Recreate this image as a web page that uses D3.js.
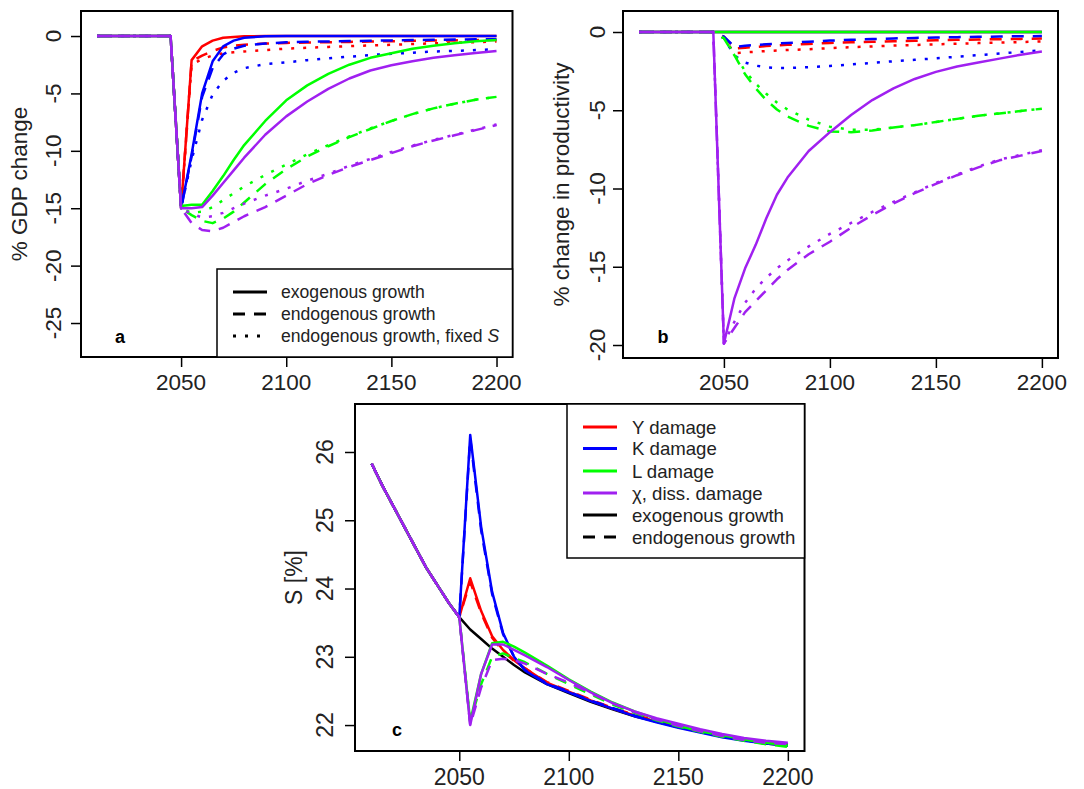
<!DOCTYPE html>
<html>
<head>
<meta charset="utf-8">
<script src="https://cdn.jsdelivr.net/npm/d3@7"></script>
<style>
  body { margin: 0; background: #fff; }
  svg { display: block; font-family: "Liberation Sans", Arial, sans-serif; }
</style>
</head>
<body>
<svg id="chart" width="1084" height="789"></svg>
<script>
// Data (5-10 year steps)
const yearsPre  = [2010, 2015, 2020, 2025, 2030, 2035, 2040, 2045];
const yearsPost = [2050, 2055, 2060, 2065, 2070, 2075, 2080, 2090, 2100, 2110, 2120, 2130, 2140, 2150, 2160, 2170, 2180, 2190, 2200];

const zeroPre    = [0, 0, 0, 0, 0, 0, 0, 0];
const savingsPre = [25.83, 25.5, 25.2, 24.9, 24.6, 24.3, 24.05, 23.8];

const xTicks  = [2050, 2100, 2150, 2200];
const aTicks  = [0, -5, -10, -15, -20, -25];
const bTicks  = [0, -5, -10, -15, -20];
const cTicks  = [22, 23, 24, 25, 26];

// panel a: % GDP change
const aY_exo  = [-15, -2.1, -0.9, -0.4, -0.15, -0.08, -0.03, 0, 0, 0, 0, 0, 0, 0, 0, 0, 0, 0, 0];
const aY_endo = [-15, -2.2, -1.7, -1.3, -1.0, -0.85, -0.75, -0.65, -0.6, -0.57, -0.54, -0.51, -0.48, -0.45, -0.42, -0.4, -0.38, -0.36, -0.34];
const aY_fix  = [-15, -2.5, -2.0, -1.7, -1.5, -1.42, -1.35, -1.22, -1.1, -1.02, -0.95, -0.88, -0.82, -0.76, -0.7, -0.64, -0.58, -0.53, -0.48];
const aK_exo  = [-15, -10.3, -5.0, -2.2, -0.9, -0.4, -0.15, -0.02, 0, 0, 0, 0, 0, 0, 0, 0, 0, 0, 0];
const aK_endo = [-15, -10.5, -5.3, -2.8, -1.6, -1.1, -0.85, -0.65, -0.55, -0.5, -0.47, -0.44, -0.41, -0.38, -0.35, -0.33, -0.31, -0.29, -0.27];
const aK_fix  = [-15, -10.8, -7.3, -5.1, -3.9, -3.2, -2.8, -2.45, -2.3, -2.1, -1.95, -1.8, -1.65, -1.55, -1.45, -1.35, -1.3, -1.22, -1.15];
const aL_exo  = [-14.8, -14.7, -14.7, -13.5, -12.2, -10.8, -9.5, -7.4, -5.6, -4.3, -3.3, -2.5, -1.9, -1.5, -1.1, -0.85, -0.62, -0.45, -0.35];
const aL_endo = [-15, -15.6, -16.1, -16.3, -15.9, -15.3, -14.5, -12.9, -11.6, -10.5, -9.6, -8.8, -8.1, -7.4, -6.8, -6.3, -5.9, -5.55, -5.3];
const aL_fix  = [-15, -15.4, -15.3, -14.9, -14.3, -13.7, -13.1, -12.1, -11.2, -10.3, -9.5, -8.75, -8.05, -7.4, -6.8, -6.3, -5.9, -5.55, -5.3];
const aX_exo  = [-15, -15, -14.9, -13.9, -12.8, -11.7, -10.6, -8.6, -7.0, -5.7, -4.6, -3.7, -3.0, -2.55, -2.2, -1.9, -1.68, -1.48, -1.3];
const aX_endo = [-15, -16.3, -16.9, -17.0, -16.7, -16.2, -15.7, -14.9, -13.9, -12.9, -12.1, -11.4, -10.8, -10.2, -9.6, -9.1, -8.65, -8.2, -7.75];
const aX_fix  = [-15, -15.5, -15.8, -15.7, -15.4, -15.0, -14.6, -13.9, -13.3, -12.6, -12.0, -11.3, -10.7, -10.1, -9.55, -9.05, -8.6, -8.15, -7.7];

// panel b: % change in productivity
const bY_exo  = [0, 0, 0, 0, 0, 0, 0, 0, 0, 0, 0, 0, 0, 0, 0, 0, 0, 0, 0];
const bY_endo = [-0.3, -1.05, -1.0, -0.95, -0.9, -0.86, -0.82, -0.76, -0.7, -0.66, -0.62, -0.59, -0.56, -0.53, -0.5, -0.48, -0.46, -0.44, -0.42];
const bY_fix  = [-0.4, -1.35, -1.3, -1.26, -1.22, -1.18, -1.15, -1.1, -1.03, -0.97, -0.92, -0.87, -0.83, -0.79, -0.75, -0.71, -0.68, -0.64, -0.6];
const bK_exo  = [0, 0, 0, 0, 0, 0, 0, 0, 0, 0, 0, 0, 0, 0, 0, 0, 0, 0, 0];
const bK_endo = [-0.3, -0.95, -0.88, -0.83, -0.78, -0.74, -0.7, -0.62, -0.55, -0.5, -0.45, -0.41, -0.38, -0.35, -0.33, -0.31, -0.29, -0.27, -0.26];
const bK_fix  = [-0.4, -1.5, -1.95, -2.15, -2.25, -2.3, -2.3, -2.25, -2.17, -2.07, -1.97, -1.87, -1.78, -1.68, -1.58, -1.48, -1.38, -1.27, -1.17];
const bL_exo  = [0, 0, 0, 0, 0, 0, 0, 0, 0, 0, 0, 0, 0, 0, 0, 0, 0, 0, 0];
const bL_endo = [-0.4, -1.5, -2.7, -3.6, -4.35, -4.95, -5.4, -6.0, -6.35, -6.4, -6.3, -6.1, -5.95, -5.75, -5.55, -5.35, -5.2, -5.05, -4.9];
const bL_fix  = [-0.4, -1.4, -2.5, -3.3, -3.95, -4.5, -4.95, -5.6, -6.05, -6.25, -6.25, -6.1, -5.95, -5.75, -5.55, -5.35, -5.2, -5.05, -4.9];
const bX_exo  = [-19.9, -17.0, -15.1, -13.6, -11.9, -10.4, -9.3, -7.6, -6.4, -5.3, -4.35, -3.6, -3.0, -2.55, -2.2, -1.95, -1.7, -1.45, -1.25];
const bX_endo = [-19.9, -18.9, -17.9, -17.2, -16.5, -15.8, -15.2, -14.2, -13.4, -12.5, -11.7, -10.95, -10.3, -9.7, -9.15, -8.65, -8.2, -7.9, -7.6];
const bX_fix  = [-19.9, -18.5, -17.3, -16.4, -15.7, -15.1, -14.6, -13.7, -12.9, -12.2, -11.5, -10.85, -10.25, -9.65, -9.1, -8.6, -8.15, -7.85, -7.55];

// panel c: savings rate S [%]
const cBase   = [23.58, 23.4, 23.26, 23.12, 23.0, 22.88, 22.77, 22.6, 22.47, 22.34, 22.23, 22.13, 22.05, 21.97, 21.9, 21.84, 21.78, 21.73, 21.7];
const cY_exo  = [23.58, 24.15, 23.67, 23.3, 23.1, 22.95, 22.83, 22.62, 22.49, 22.36, 22.24, 22.14, 22.05, 21.97, 21.9, 21.84, 21.78, 21.74, 21.71];
const cY_endo = [23.58, 24.1, 23.64, 23.28, 23.08, 22.94, 22.83, 22.63, 22.5, 22.37, 22.25, 22.15, 22.06, 21.98, 21.91, 21.85, 21.79, 21.75, 21.72];
const cK_exo  = [23.58, 26.25, 24.9, 23.95, 23.35, 23.0, 22.8, 22.6, 22.48, 22.35, 22.24, 22.13, 22.04, 21.96, 21.89, 21.82, 21.77, 21.73, 21.7];
const cK_endo = [23.58, 26.2, 24.85, 23.92, 23.33, 23.0, 22.81, 22.61, 22.49, 22.36, 22.25, 22.14, 22.05, 21.97, 21.9, 21.83, 21.78, 21.74, 21.71];
const cL_exo  = [23.58, 22.05, 22.75, 23.2, 23.22, 23.15, 23.06, 22.87, 22.67, 22.49, 22.33, 22.2, 22.09, 21.99, 21.91, 21.85, 21.79, 21.74, 21.7];
const cL_endo = [23.58, 22.05, 22.6, 23.0, 23.05, 22.98, 22.92, 22.75, 22.6, 22.45, 22.3, 22.18, 22.07, 21.98, 21.9, 21.83, 21.77, 21.72, 21.68];
const cX_exo  = [23.58, 22.0, 22.75, 23.18, 23.18, 23.1, 23.02, 22.85, 22.66, 22.48, 22.32, 22.2, 22.1, 22.02, 21.94, 21.87, 21.81, 21.77, 21.74];
const cX_endo = [23.58, 22.0, 22.55, 22.95, 22.97, 22.95, 22.9, 22.75, 22.62, 22.47, 22.32, 22.19, 22.08, 21.99, 21.91, 21.84, 21.78, 21.74, 21.72];

const legendA = ["exogenous growth", "endogenous growth", "endogenous growth, fixed "];
const legendC = ["Y damage", "K damage", "L damage", "χ, diss. damage", "exogenous growth", "endogenous growth"];

// Styles
const COL  = { Y: "#ff0000", K: "#0000ff", L: "#00ff00", X: "#a020f0", base: "#000000" };
const DASH = { exo: null, endo: "12 9", fix: "3 9" };

const svg = d3.select("#chart");

function drawPanel(p) {
  const x = d3.scaleLinear().domain([2002.4, 2207.6]).range([p.left, p.right]);
  const y = d3.scaleLinear().domain(p.yDomain).range([p.bottom, p.top]);
  const g = svg.append("g");
  const line = d3.line().x(d => x(d[0])).y(d => y(d[1]));

  const clip = "clip-" + p.tag;
  svg.append("clipPath").attr("id", clip).append("rect")
    .attr("x", p.left).attr("y", p.top)
    .attr("width", p.right - p.left).attr("height", p.bottom - p.top);

  const lines = g.append("g").attr("clip-path", `url(#${clip})`);
  p.series.forEach(s => {
    const pts = yearsPre.map((yr, i) => [yr, s.pre[i]])
      .concat(yearsPost.map((yr, i) => [yr, s.post[i]]));
    lines.append("path")
      .attr("d", line(pts))
      .attr("fill", "none")
      .attr("stroke", s.color)
      .attr("stroke-width", 2.5)
      .attr("stroke-linejoin", "round")
      .attr("stroke-dasharray", DASH[s.lty]);
  });

  // axes (ticks only; labels drawn R-style)
  g.append("g").attr("transform", `translate(0,${p.bottom})`)
    .call(d3.axisBottom(x).tickValues(xTicks).tickSize(10).tickFormat(""))
    .call(a => a.select(".domain").remove())
    .call(a => a.selectAll("line").attr("stroke", "#000").attr("stroke-width", 1.5));
  g.append("g").attr("transform", `translate(${p.left},0)`)
    .call(d3.axisLeft(y).tickValues(p.yTicks).tickSize(10).tickFormat(""))
    .call(a => a.select(".domain").remove())
    .call(a => a.selectAll("line").attr("stroke", "#000").attr("stroke-width", 1.5));

  g.selectAll(".xlab").data(xTicks).join("text")
    .attr("x", d => x(d)).attr("y", p.xLabY).attr("dy", "0.35em")
    .attr("text-anchor", "middle").attr("font-size", p.font).attr("fill", "#222")
    .text(d => d);
  g.selectAll(".ylab").data(p.yTicks).join("text")
    .attr("transform", d => `translate(${p.yLabX},${y(d)}) rotate(-90)`)
    .attr("dy", "0.35em").attr("text-anchor", "middle")
    .attr("font-size", p.font).attr("fill", "#222")
    .text(d => String(d));

  g.append("text")
    .attr("transform", `translate(${p.titleX},${(p.top + p.bottom) / 2}) rotate(-90)`)
    .attr("dy", "0.35em").attr("text-anchor", "middle")
    .attr("font-size", p.font).attr("fill", "#222")
    .text(p.title);

  g.append("rect")
    .attr("x", p.left).attr("y", p.top)
    .attr("width", p.right - p.left).attr("height", p.bottom - p.top)
    .attr("fill", "none").attr("stroke", "#000").attr("stroke-width", 2);

  g.append("text")
    .attr("x", p.tagX).attr("y", p.tagY).attr("dy", "0.35em")
    .attr("text-anchor", "middle").attr("font-weight", "bold")
    .attr("font-size", 18).text(p.tag);

  return g;
}

function legend(g, box, items) {
  g.append("rect")
    .attr("x", box.x0).attr("y", box.y0)
    .attr("width", box.x1 - box.x0).attr("height", box.y1 - box.y0)
    .attr("fill", "#fff").attr("stroke", "#000").attr("stroke-width", 1.5);
  items.forEach((it, i) => {
    const yy = box.rowY[i];
    g.append("line")
      .attr("x1", box.lx0).attr("x2", box.lx1).attr("y1", yy).attr("y2", yy)
      .attr("stroke", it.color).attr("stroke-width", 3)
      .attr("stroke-dasharray", DASH[it.lty]);
    const t = g.append("text")
      .attr("x", box.tx).attr("y", yy).attr("dy", "0.35em")
      .attr("font-size", box.font).attr("fill", "#222")
      .text(it.label);
    if (it.italic) t.append("tspan").attr("font-style", "italic").text(it.italic);
  });
}

// Panel a
const ga = drawPanel({
  tag: "a", left: 81, right: 512.5, top: 11, bottom: 357, font: 22.5,
  yDomain: [-27.96, 2.18], yTicks: aTicks,
  yLabX: 53, xLabY: 382, titleX: 19, title: "% GDP change",
  tagX: 120, tagY: 337,
  series: [
    { pre: zeroPre, post: aY_exo,  color: COL.Y, lty: "exo" },
    { pre: zeroPre, post: aY_endo, color: COL.Y, lty: "endo" },
    { pre: zeroPre, post: aY_fix,  color: COL.Y, lty: "fix" },
    { pre: zeroPre, post: aK_exo,  color: COL.K, lty: "exo" },
    { pre: zeroPre, post: aK_endo, color: COL.K, lty: "endo" },
    { pre: zeroPre, post: aK_fix,  color: COL.K, lty: "fix" },
    { pre: zeroPre, post: aL_exo,  color: COL.L, lty: "exo" },
    { pre: zeroPre, post: aL_endo, color: COL.L, lty: "endo" },
    { pre: zeroPre, post: aL_fix,  color: COL.L, lty: "fix" },
    { pre: zeroPre, post: aX_exo,  color: COL.X, lty: "exo" },
    { pre: zeroPre, post: aX_endo, color: COL.X, lty: "endo" },
    { pre: zeroPre, post: aX_fix,  color: COL.X, lty: "fix" }
  ]
});
legend(ga, { x0: 217, x1: 512.5, y0: 269, y1: 357, lx0: 233, lx1: 267, tx: 281, font: 17.6, rowY: [292, 314, 336] }, [
  { label: legendA[0], color: "#000", lty: "exo" },
  { label: legendA[1], color: "#000", lty: "endo" },
  { label: legendA[2], color: "#000", lty: "fix", italic: "S" }
]);

// Panel b
drawPanel({
  tag: "b", left: 623, right: 1058, top: 11, bottom: 358, font: 22.5,
  yDomain: [-20.83, 1.342], yTicks: bTicks,
  yLabX: 597, xLabY: 382, titleX: 561, title: "% change in productivity",
  tagX: 663, tagY: 337,
  series: [
    { pre: zeroPre, post: bY_exo,  color: COL.Y, lty: "exo" },
    { pre: zeroPre, post: bY_endo, color: COL.Y, lty: "endo" },
    { pre: zeroPre, post: bY_fix,  color: COL.Y, lty: "fix" },
    { pre: zeroPre, post: bK_exo,  color: COL.K, lty: "exo" },
    { pre: zeroPre, post: bK_endo, color: COL.K, lty: "endo" },
    { pre: zeroPre, post: bK_fix,  color: COL.K, lty: "fix" },
    { pre: zeroPre, post: bL_exo,  color: COL.L, lty: "exo" },
    { pre: zeroPre, post: bL_endo, color: COL.L, lty: "endo" },
    { pre: zeroPre, post: bL_fix,  color: COL.L, lty: "fix" },
    { pre: zeroPre, post: bX_exo,  color: COL.X, lty: "exo" },
    { pre: zeroPre, post: bX_endo, color: COL.X, lty: "endo" },
    { pre: zeroPre, post: bX_fix,  color: COL.X, lty: "fix" }
  ]
});

// Panel c
const gc = drawPanel({
  tag: "c", left: 355, right: 804.5, top: 404, bottom: 751, font: 23,
  yDomain: [21.62, 26.703], yTicks: cTicks,
  yLabX: 325, xLabY: 777, titleX: 294, title: "S [%]",
  tagX: 397, tagY: 730,
  series: [
    { pre: savingsPre, post: cBase,   color: COL.base, lty: "exo" },
    { pre: savingsPre, post: cY_exo,  color: COL.Y, lty: "exo" },
    { pre: savingsPre, post: cY_endo, color: COL.Y, lty: "endo" },
    { pre: savingsPre, post: cK_exo,  color: COL.K, lty: "exo" },
    { pre: savingsPre, post: cK_endo, color: COL.K, lty: "endo" },
    { pre: savingsPre, post: cL_exo,  color: COL.L, lty: "exo" },
    { pre: savingsPre, post: cL_endo, color: COL.L, lty: "endo" },
    { pre: savingsPre, post: cX_exo,  color: COL.X, lty: "exo" },
    { pre: savingsPre, post: cX_endo, color: COL.X, lty: "endo" }
  ]
});
legend(gc, { x0: 567, x1: 804.5, y0: 404, y1: 558, lx0: 583, lx1: 617, tx: 632, font: 18.6, rowY: [427, 448.5, 471, 493, 515, 537] }, [
  { label: legendC[0], color: COL.Y, lty: "exo" },
  { label: legendC[1], color: COL.K, lty: "exo" },
  { label: legendC[2], color: COL.L, lty: "exo" },
  { label: legendC[3], color: COL.X, lty: "exo" },
  { label: legendC[4], color: "#000", lty: "exo" },
  { label: legendC[5], color: "#000", lty: "endo" }
]);
</script>
</body>
</html>
